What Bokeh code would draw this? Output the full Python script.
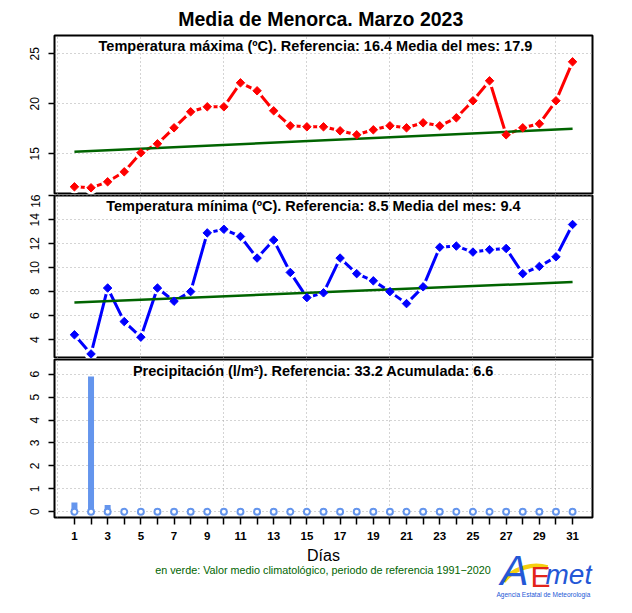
import math
from bokeh.plotting import figure
from bokeh.models import Range1d, FixedTicker, Grid
from bokeh.layouts import column
from bokeh.core.properties import value
from bokeh.embed import file_html
from bokeh.resources import INLINE

# ---------------- data ----------------
days = list(range(1, 32))
tmax = [11.7, 11.6, 12.2, 13.2, 15.1, 16.0, 17.6, 19.2, 19.7, 19.7,
        22.1, 21.3, 19.3, 17.8, 17.7, 17.7, 17.3, 16.9, 17.4, 17.8,
        17.6, 18.1, 17.8, 18.6, 20.3, 22.3, 16.9, 17.6, 18.0, 20.3, 24.2]
tmin = [4.4, 2.8, 8.3, 5.5, 4.2, 8.3, 7.2, 8.0, 12.9, 13.2,
        12.6, 10.8, 12.3, 9.6, 7.5, 7.9, 10.8, 9.5, 8.9, 8.0,
        7.0, 8.4, 11.7, 11.8, 11.3, 11.5, 11.6, 9.5, 10.1, 10.9, 13.6]
prec = [0.4, 5.9, 0.3, 0.0, 0.0, 0.0, 0.0, 0.0, 0.0, 0.0,
        0.0, 0.0, 0.04, 0.0, 0.0, 0.0, 0.02, 0.0, 0.0, 0.04,
        0.0, 0.0, 0.04, 0.04, 0.0, 0.0, 0.0, 0.0, 0.0, 0.04, 0.0]
clim_days = [1, 31]
clim_tmax = [15.2, 17.5]
clim_tmin = [7.1, 8.8]

tmax_ticks = [15, 20, 25]
tmin_ticks = [4, 6, 8, 10, 12, 14, 16]
prec_ticks = [0, 1, 2, 3, 4, 5, 6]
grid_days = [0, 5, 10, 15, 20, 25, 30]

title_text = "Media de Menorca.  Marzo 2023"
sub_max = "Temperatura máxima (ºC). Referencia:  16.4   Media del mes:  17.9"
sub_min = "Temperatura mínima (ºC).  Referencia:  8.5   Media del mes:  9.4"
sub_prec = "Precipitación (l/m²).  Referencia:  33.2   Acumulada:  6.6"
xlabel_text = "Días"
note_text = "en verde: Valor medio climatológico, periodo de referencia 1991−2020"
logo_sub = "Agencia Estatal de Meteorología"

FONT = "Liberation Sans"
W = 616
FL, FR = 54, 592          # frame left / right in page pixels (shared by all rows)
RED = "#ff0000"
BLUE = "#0000ff"
GREEN = "#006400"
PBLUE = "#6495ed"
LOGO_BLUE = "#2457d6"


def panel(h, ylo, yhi, yticks, top, bottom, with_x):
    p = figure(width=W, height=h, x_range=Range1d(-0.2, 32.2), y_range=Range1d(ylo, yhi),
               title=None, output_backend="svg", toolbar_location=None,
               x_axis_location="below" if with_x else None,
               min_border_left=FL, min_border_right=W - FR,
               min_border_top=top, min_border_bottom=bottom)
    p.background_fill_color = "white"
    p.border_fill_color = "white"
    p.outline_line_color = "black"
    p.outline_line_width = 2
    for g in p.grid:
        g.visible = False
    p.add_layout(Grid(dimension=0, ticker=FixedTicker(ticks=grid_days),
                      grid_line_color="#a8a8a8", grid_line_dash="1 3", grid_line_width=1))
    p.add_layout(Grid(dimension=1, ticker=FixedTicker(ticks=yticks),
                      grid_line_color="#a8a8a8", grid_line_dash="1 3", grid_line_width=1))
    ax = p.yaxis[0]
    ax.ticker = FixedTicker(ticks=yticks)
    ax.axis_line_color = None
    ax.major_tick_out = 6
    ax.major_tick_in = 0
    ax.major_tick_line_width = 1.5
    ax.minor_tick_line_color = None
    ax.major_label_orientation = "vertical"
    ax.major_label_text_font = FONT
    ax.major_label_text_font_size = "12px"
    ax.major_label_text_color = "black"
    ax.major_label_standoff = 9
    if with_x:
        xa = p.xaxis[0]
        xa.ticker = FixedTicker(ticks=days)
        xa.major_label_overrides = {d: "" for d in days if d % 2 == 0}
        xa.axis_line_color = None
        xa.major_tick_out = 7
        xa.major_tick_in = 0
        xa.major_tick_line_width = 1.5
        xa.minor_tick_line_color = None
        xa.major_label_text_font = FONT
        xa.major_label_text_font_style = "bold"
        xa.major_label_text_font_size = "11.5px"
        xa.major_label_text_color = "black"
        xa.major_label_standoff = 7
    return p


def subtitle(p, text, yhi, off):
    p.text(x=[16], y=[yhi], text=[text], text_align="center", text_baseline="middle",
           y_offset=off, text_font=value(FONT), text_font_style="bold",
           text_font_size="14.5px", text_color="black")


def temp_series(p, ys, clim, color):
    p.line(days, ys, line_color=color, line_width=3)
    p.scatter(days, ys, marker="circle", size=13, fill_color="white", line_color=None)
    p.line(clim_days, clim, line_color=GREEN, line_width=2.5)
    p.scatter(days, ys, marker="square", angle=math.pi / 4, size=6,
              fill_color=color, line_color=color, line_width=1)


def blank(h, y_top, y_bottom):
    # frame is aligned with the panels' frames by the column layout: map it to page pixels
    f = figure(width=W, height=h, x_range=Range1d(FL, FR), y_range=Range1d(y_bottom, y_top),
               title=None, output_backend="svg", toolbar_location=None,
               x_axis_location=None, y_axis_location=None,
               min_border_left=FL, min_border_right=W - FR,
               min_border_top=0, min_border_bottom=0)
    f.outline_line_color = None
    f.background_fill_color = "white"
    f.border_fill_color = "white"
    for g in f.grid:
        g.visible = False
    return f


def label(f, x, y, text, size, color="black", style="normal", align="center"):
    f.text(x=[x], y=[y], text=[text], text_align=align, text_baseline="middle",
           text_font=value(FONT), text_font_style=style, text_font_size=size,
           text_color=color)


# ---------------- title strip ----------------
ft = blank(34, 0, 34)
label(ft, 323, 18.5, title_text, "19.5px", style="bold")

# ---------------- panel 1: Tmax ----------------
p1 = panel(160, 10.93, 26.83, tmax_ticks, 1, 0, False)
temp_series(p1, tmax, clim_tmax, RED)
subtitle(p1, sub_max, 26.83, 10.5)

# ---------------- panel 2: Tmin ----------------
p2 = panel(164, 2.42, 16.02, tmin_ticks, 1, 0, False)
temp_series(p2, tmin, clim_tmin, BLUE)
subtitle(p2, sub_min, 16.02, 10.5)

# ---------------- panel 3: precipitation ----------------
p3 = panel(187, -0.25, 6.64, prec_ticks, 1, 28, True)
p3.segment(x0=days, y0=[0] * len(days), x1=days, y1=prec,
           line_color=PBLUE, line_width=6, line_cap="butt")
p3.scatter(days, [0] * len(days), marker="circle", size=6, fill_color="white",
           line_color=PBLUE, line_width=2)
subtitle(p3, sub_prec, 6.64, 11.5)

# ---------------- footer ----------------
ff = blank(60, 545, 605)
label(ff, 323, 555, xlabel_text, "16px")
label(ff, 322.5, 569, note_text, "10.8px", color=GREEN)
# AEMET logo
ff.bezier(x0=[503], y0=[581], x1=[547], y1=[567], cx0=[514], cy0=[566], cx1=[534], cy1=[563],
          line_color="#f5cf10", line_width=4.5)
label(ff, 500, 570, "A", "42px", color=LOGO_BLUE, style="italic", align="left")
label(ff, 530, 576, "E", "30px", color="#e3241b", align="left")
label(ff, 545, 574, "met", "28px", color=LOGO_BLUE, style="italic", align="left")
label(ff, 543, 594, logo_sub, "6.5px", color=LOGO_BLUE)

layout = column(ft, p1, p2, p3, ff, spacing=0)
open("out.html", "w").write(file_html(layout, INLINE))
